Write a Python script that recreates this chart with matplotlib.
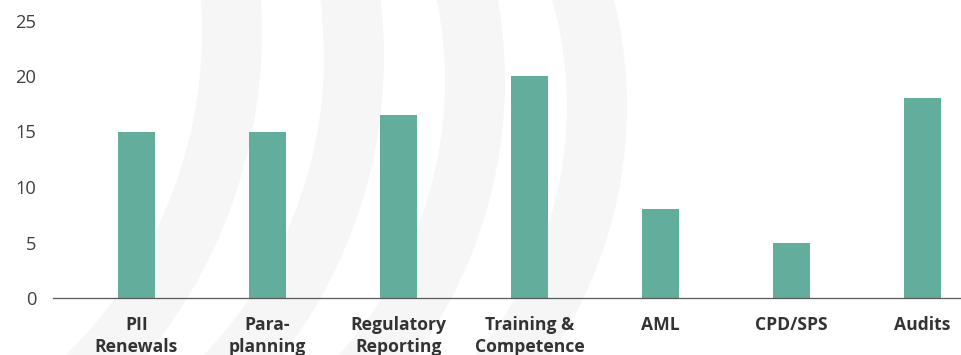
import numpy as np
import matplotlib
matplotlib.use("Agg")
import matplotlib.pyplot as plt
from matplotlib.patches import Wedge

plt.rcParams['font.family'] = ['Open Sans', 'DejaVu Sans']

# Data
categories = ["PII\nRenewals", "Para-\nplanning", "Regulatory\nReporting",
              "Training &\nCompetence", "AML", "CPD/SPS", "Audits"]
values = [15, 15, 16.5, 20, 8, 5, 18]
y_ticks = [0, 5, 10, 15, 20, 25]

BAR_COLOR = "#62ad9b"
W, H = 962, 355

fig = plt.figure(figsize=(W / 100, H / 100), dpi=100)

# Faint decorative arcs in the background (pixel coordinates, origin top-left)
bg = fig.add_axes([0, 0, 1, 1], zorder=0)
bg.set_xlim(0, W)
bg.set_ylim(H, 0)
bg.axis("off")
arcs = [  # (center x, center y, centre-line radius)
    (-249, 32, 481),
    (-105, 57, 459),
    (39, 81, 436),
    (183, 106, 414),
]
band = 60
for cx, cy, r in arcs:
    bg.add_patch(Wedge((cx, cy), r + band / 2, -90, 90, width=band,
                       facecolor="#f6f6f6", edgecolor="none"))

# Main bar chart
left = 53 / W
bottom = (H - 298) / H
height = (298 - 20.5) / H
ax = fig.add_axes([left, bottom, 1 - left, height], zorder=1)
ax.patch.set_alpha(0)

x = np.arange(len(categories))
ax.bar(x, values, width=0.282, color=BAR_COLOR, edgecolor="none", zorder=2)

ax.set_xlim((53 - 136.5) / 131, (W - 136.5) / 131)
ax.set_ylim(0, 25)
ax.set_yticks(y_ticks)
ax.set_yticklabels([str(t) for t in y_ticks], fontsize=13.2, color="#404040")
ax.set_xticks(x)
ax.set_xticklabels(categories, fontsize=12.6, fontweight="bold", color="#333333",
                   linespacing=1.3)
ax.tick_params(axis="y", length=0, pad=12)
ax.tick_params(axis="x", length=0, pad=13)

for s in ("left", "right", "top"):
    ax.spines[s].set_visible(False)
ax.spines["bottom"].set_color("#595959")
ax.spines["bottom"].set_linewidth(0.9)

fig.savefig("out.png", dpi=100)
